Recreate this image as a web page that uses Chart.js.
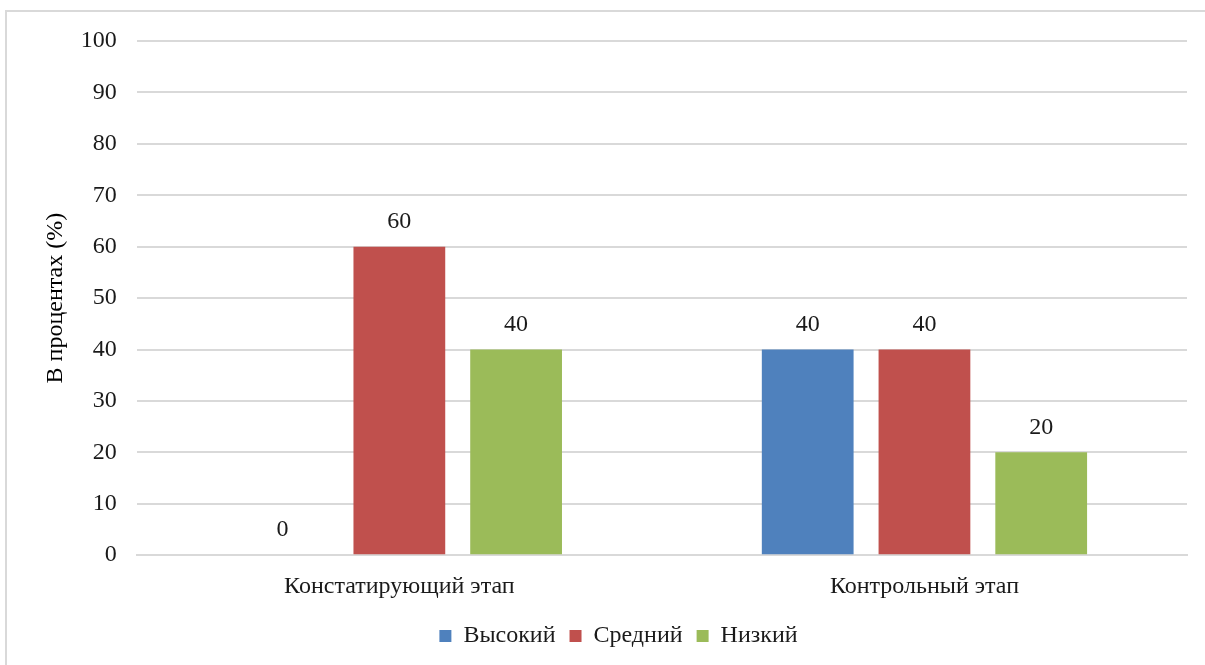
<!DOCTYPE html>
<html>
<head>
<meta charset="utf-8">
<script src="https://cdn.jsdelivr.net/npm/chart.js@4"></script>
<style>
  html, body { margin: 0; padding: 0; background: #fff; }
  #wrap { position: relative; width: 1205px; height: 665px; overflow: hidden; }
  #frame { position: absolute; left: 5px; top: 10px; width: 1220px; height: 700px; border: 2px solid #d9d9d9; box-sizing: border-box; }
  canvas { position: absolute; left: 0; top: 0; }
</style>
</head>
<body>
<div id="wrap">
  <div id="frame"></div>
  <canvas id="chart" width="1205" height="665"></canvas>
</div>
<script>
const categories = ['Констатирующий этап', 'Контрольный этап'];
const seriesNames = ['Высокий', 'Средний', 'Низкий'];
const high = [0, 40];
const medium = [60, 40];
const low = [40, 20];
const yTicks = [0, 10, 20, 30, 40, 50, 60, 70, 80, 90, 100];

const colors = ['#4F81BD', '#C0504D', '#9BBB59'];
const serif = '"Liberation Serif", "Times New Roman", serif';

// values above each bar
const barLabels = {
  id: 'barLabels',
  afterDatasetsDraw(chart) {
    const ctx = chart.ctx;
    ctx.save();
    ctx.font = '24px ' + serif;
    ctx.fillStyle = '#1a1a1a';
    ctx.textAlign = 'center';
    ctx.textBaseline = 'middle';
    chart.data.datasets.forEach((ds, i) => {
      chart.getDatasetMeta(i).data.forEach((bar, j) => {
        ctx.fillText(String(ds.data[j]), bar.x, bar.y - 25);
      });
    });
    ctx.restore();
  }
};

// legend in the original sits a little right of centre
const legendShift = {
  id: 'legendShift',
  afterLayout(chart) {
    if (chart.legend) {
      chart.legend.left += 17;
      chart.legend.right += 17;
    }
  }
};

new Chart(document.getElementById('chart'), {
  type: 'bar',
  data: {
    labels: categories,
    datasets: [
      { label: seriesNames[0], data: high, backgroundColor: colors[0] },
      { label: seriesNames[1], data: medium, backgroundColor: colors[1] },
      { label: seriesNames[2], data: low, backgroundColor: colors[2] }
    ]
  },
  options: {
    responsive: false,
    animation: false,
    devicePixelRatio: 1,
    categoryPercentage: 0.667,
    barPercentage: 0.786,
    layout: { padding: { left: 16, right: 18, top: 41, bottom: 7 } },
    plugins: {
      tooltip: { enabled: false },
      legend: {
        position: 'bottom',
        labels: {
          font: { family: serif, size: 24 },
          color: '#1a1a1a',
          boxWidth: 12,
          boxHeight: 12,
          padding: 14
        }
      }
    },
    scales: {
      x: {
        grid: { display: false },
        border: { display: true, color: '#d9d9d9', width: 2 },
        ticks: { font: { family: serif, size: 24 }, color: '#1a1a1a', padding: 9 }
      },
      y: {
        min: 0,
        max: 100,
        afterBuildTicks(axis) { axis.ticks = yTicks.map(v => ({ value: v })); },
        grid: { color: '#d9d9d9', lineWidth: 2, drawTicks: false },
        border: { display: false },
        ticks: { font: { family: serif, size: 24 }, color: '#1a1a1a', padding: 20 },
        title: {
          display: true,
          text: 'В процентах (%)',
          font: { family: serif, size: 24 },
          color: '#000',
          padding: { top: 25, bottom: -9 }
        }
      }
    }
  },
  plugins: [barLabels, legendShift]
});
</script>
</body>
</html>
